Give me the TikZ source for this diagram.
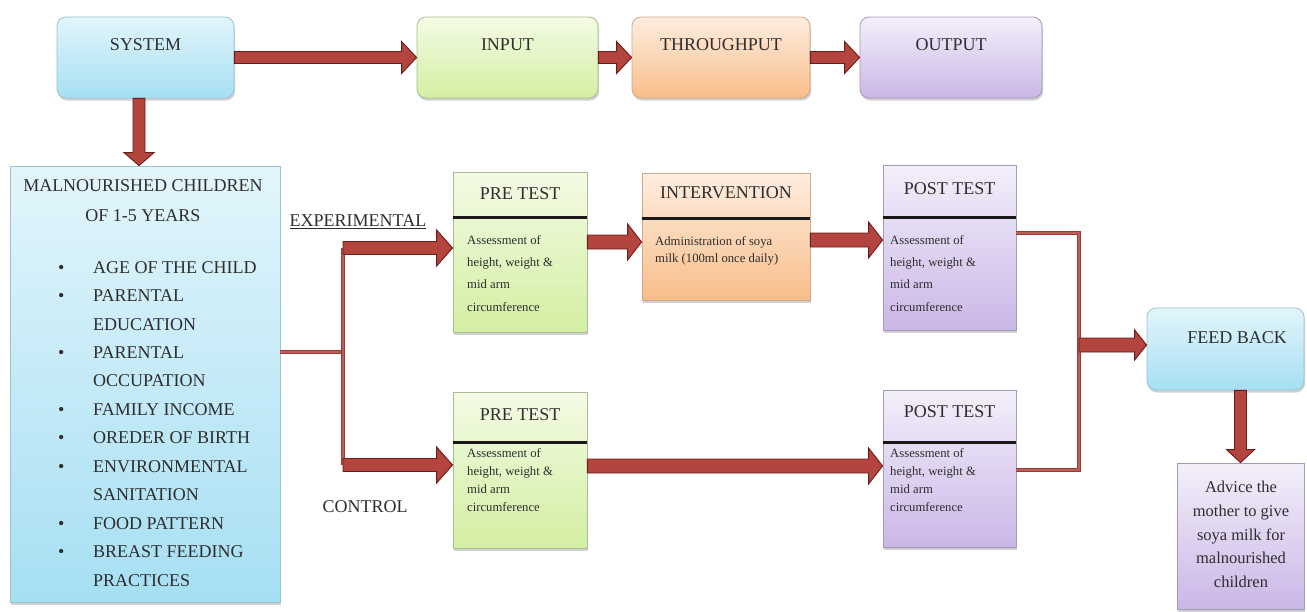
\documentclass[tikz,border=0pt]{standalone}
\usepackage{fontspec}
\setmainfont{Liberation Serif}
\usetikzlibrary{calc,shadows}
\definecolor{cyT}{HTML}{E2F5FB}
\definecolor{cyB}{HTML}{A6DFF3}
\definecolor{cyD}{HTML}{9BC3D2}
\definecolor{grT}{HTML}{F3FBE5}
\definecolor{grB}{HTML}{D3EFA2}
\definecolor{grD}{HTML}{A9BD92}
\definecolor{peT}{HTML}{FEEDE0}
\definecolor{peB}{HTML}{F8BE8A}
\definecolor{peD}{HTML}{D0A888}
\definecolor{laT}{HTML}{F3EFFA}
\definecolor{laB}{HTML}{CBB7E7}
\definecolor{laD}{HTML}{A29BB8}
\definecolor{arrF}{HTML}{B4443E}
\definecolor{arrD}{HTML}{6B1D19}
\definecolor{connD}{HTML}{9A3934}
\definecolor{connF}{HTML}{BE5E58}
\definecolor{txtC}{HTML}{2E2E2E}
\newcommand\lbul{\makebox[38pt][l]{\hspace{3pt}\textbullet}}
\newcommand\lind{\hspace*{38pt}}
\tikzset{
  txt/.style={inner sep=0pt, text=txtC, font=\fontsize{18}{20}\selectfont},
  body/.style={inner sep=0pt, text=txtC, align=left, anchor=north west},
  boxbase/.style={inner sep=0pt, line width=0.8pt,
    drop shadow={shadow xshift=1pt, shadow yshift=-2.5pt, opacity=0.3, fill=black!60}},
  rbox/.style={boxbase, rounded corners=9pt},
  sbox/.style={boxbase},
  cyanfill/.style={top color=cyT, bottom color=cyB, draw=cyD},
  greenfill/.style={top color=grT, bottom color=grB, draw=grD},
  peachfill/.style={top color=peT, bottom color=peB, draw=peD},
  lavfill/.style={top color=laT, bottom color=laB, draw=laD},
  divider/.style={draw=black!90, line width=3pt},
  conn/.style={draw=connD, double=connF, double distance=1.3pt, line width=1.3pt, line join=miter},
  barrow/.style n args={3}{draw=arrD, fill=arrF, line width=0.9pt, line join=miter,
    to path={let \p1=(\tikztostart), \p2=(\tikztotarget),
      \n1={atan2(\y2-\y1,\x2-\x1)}, \n2={veclen(\x2-\x1,\y2-\y1)} in
      {[shift={(\p1)}, rotate=\n1]
        (0pt,-#1pt) -- ({\n2-#3pt},-#1pt) -- ({\n2-#3pt},-#2pt) -- (\n2,0pt)
        -- ({\n2-#3pt},#2pt) -- ({\n2-#3pt},#1pt) -- (0pt,#1pt) -- cycle}}},
}
\begin{document}
\begin{tikzpicture}[x=1pt, y=-1pt]
\useasboundingbox[fill=white] (0,0) rectangle (1307,611);

% top row boxes
\node[rbox, cyanfill, minimum width=177pt, minimum height=81pt] (sys) at (145.5,57.5) {};
\node[rbox, greenfill, minimum width=181pt, minimum height=81pt] (inp) at (507.5,57.5) {};
\node[rbox, peachfill, minimum width=178pt, minimum height=81pt] (thr) at (721,57.5) {};
\node[rbox, lavfill, minimum width=182pt, minimum height=81pt] (outp) at (951,57.5) {};

% left box
\node[sbox, cyanfill, minimum width=270pt, minimum height=436pt] (mal) at (145,384) {};

% middle boxes
\node[sbox, greenfill, minimum width=134pt, minimum height=160pt] (preT) at (520,252) {};
\node[sbox, peachfill, minimum width=168pt, minimum height=127pt] (intv) at (726,236.5) {};
\node[sbox, lavfill, minimum width=133pt, minimum height=165pt] (postT) at (949.5,247.5) {};
\node[sbox, greenfill, minimum width=134pt, minimum height=156pt] (preB) at (520,470) {};
\node[sbox, lavfill, minimum width=133pt, minimum height=157pt] (postB) at (949.5,468.5) {};

% right boxes
\node[rbox, cyanfill, minimum width=157pt, minimum height=82pt] (fb) at (1225.5,349) {};
\node[sbox, lavfill, minimum width=127pt, minimum height=146pt] (adv) at (1240.5,536) {};

% dividers
\draw[divider] (preT.west |- 0,217) -- (preT.east |- 0,217);
\draw[divider] (intv.west |- 0,218) -- (intv.east |- 0,218);
\draw[divider] (postT.west |- 0,217) -- (postT.east |- 0,217);
\draw[divider] (preB.west |- 0,442) -- (preB.east |- 0,442);
\draw[divider] (postB.west |- 0,442) -- (postB.east |- 0,442);

% thin connectors
\coordinate (bj) at (343,352);
\coordinate (bt) at (343,248);
\coordinate (bb) at (343,465);
\draw[conn] (mal.east |- bj) -- (bj);
\draw[conn] (bt) -- (bb);
\coordinate (rt) at (1079,233);
\coordinate (rb) at (1079,470);
\coordinate (rm) at (1079,345);
\draw[conn] (postT.east |- rt) -- (rt) -- (rb) -- (postB.east |- rb);

% block arrows
\draw[barrow={6}{16}{15}] (sys.east) to (inp.west);
\draw[barrow={6}{16}{15}] (inp.east) to (thr.west);
\draw[barrow={6}{16}{15}] (thr.east) to (outp.west);
\coordinate (sd) at ([xshift=-6.5pt]sys.south);
\draw[barrow={6}{15}{13}] (sd) to (sd |- mal.north);
\draw[barrow={6.5}{18}{16}] (bt) to (preT.west |- bt);
\draw[barrow={6.5}{18}{16}] (bb) to (preB.west |- bb);
\coordinate (c1) at ([yshift=10pt]preT.east);
\draw[barrow={7}{18}{14}] (c1) to (intv.west |- c1);
\coordinate (c2) at ([yshift=-3.5pt]intv.east);
\draw[barrow={7}{18}{14}] (c2) to (postT.west |- c2);
\coordinate (c3) at ([yshift=4pt]preB.east);
\draw[barrow={7}{18}{14}] (c3) to (postB.west |- c3);
\draw[barrow={7}{15}{12}] (rm) to (fb.west |- rm);
\coordinate (fd) at (adv.north |- fb.south);
\draw[barrow={6}{14}{13}] (fd) to (adv.north);

% texts
\node[txt] (sysT) at (145.5,45) {SYSTEM};
\node[txt] (inpT) at (507.5,45) {INPUT};
\node[txt] (thrT) at (721,45) {THROUGHPUT};
\node[txt] (outT) at (951,45) {OUTPUT};
\node[txt, align=center, anchor=north, font=\fontsize{18}{30}\selectfont] (malT) at (143,179)
  {MALNOURISHED CHILDREN\\OF 1-5 YEARS};
\node[body, font=\fontsize{18}{28.45}\selectfont] (list) at (55,261)
  {\lbul AGE OF THE CHILD\\
   \lbul PARENTAL\\
   \lind EDUCATION\\
   \lbul PARENTAL\\
   \lind OCCUPATION\\
   \lbul FAMILY INCOME\\
   \lbul OREDER OF BIRTH\\
   \lbul ENVIRONMENTAL\\
   \lind SANITATION\\
   \lbul FOOD PATTERN\\
   \lbul BREAST FEEDING\\
   \lind PRACTICES};
\node[txt] (expT) at (358,222) {\underline{EXPERIMENTAL}};
\node[txt] (conT) at (365,507) {CONTROL};

\node[txt] (preTh) at (520,194) {PRE TEST};
\node[body, font=\fontsize{12.7}{22.3}\selectfont] (preTb) at (467,235)
  {Assessment of\\height, weight \&\\mid arm\\circumference};
\node[txt] (intvh) at (726,193) {INTERVENTION};
\node[body, font=\fontsize{12.7}{17}\selectfont] (intvb) at (655,236)
  {Administration of soya\\milk (100ml once daily)};
\node[txt] (postTh) at (949.5,189) {POST TEST};
\node[body, font=\fontsize{12.7}{22.3}\selectfont] (postTb) at (890,235)
  {Assessment of\\height, weight \&\\mid arm\\circumference};

\node[txt] (preBh) at (520,415) {PRE TEST};
\node[body, font=\fontsize{12.7}{18}\selectfont] (preBb) at (467,448)
  {Assessment of\\height, weight \&\\mid arm\\circumference};
\node[txt] (postBh) at (949.5,412) {POST TEST};
\node[body, font=\fontsize{12.7}{18}\selectfont] (postBb) at (890,448)
  {Assessment of\\height, weight \&\\mid arm\\circumference};

\node[txt] (fbT) at (1237,338) {FEED BACK};
\node[txt, align=center, anchor=north, font=\fontsize{16.5}{23.7}\selectfont] (advT) at (1241,481)
  {Advice the\\mother to give\\soya milk for\\malnourished\\children};
\end{tikzpicture}
\end{document}
